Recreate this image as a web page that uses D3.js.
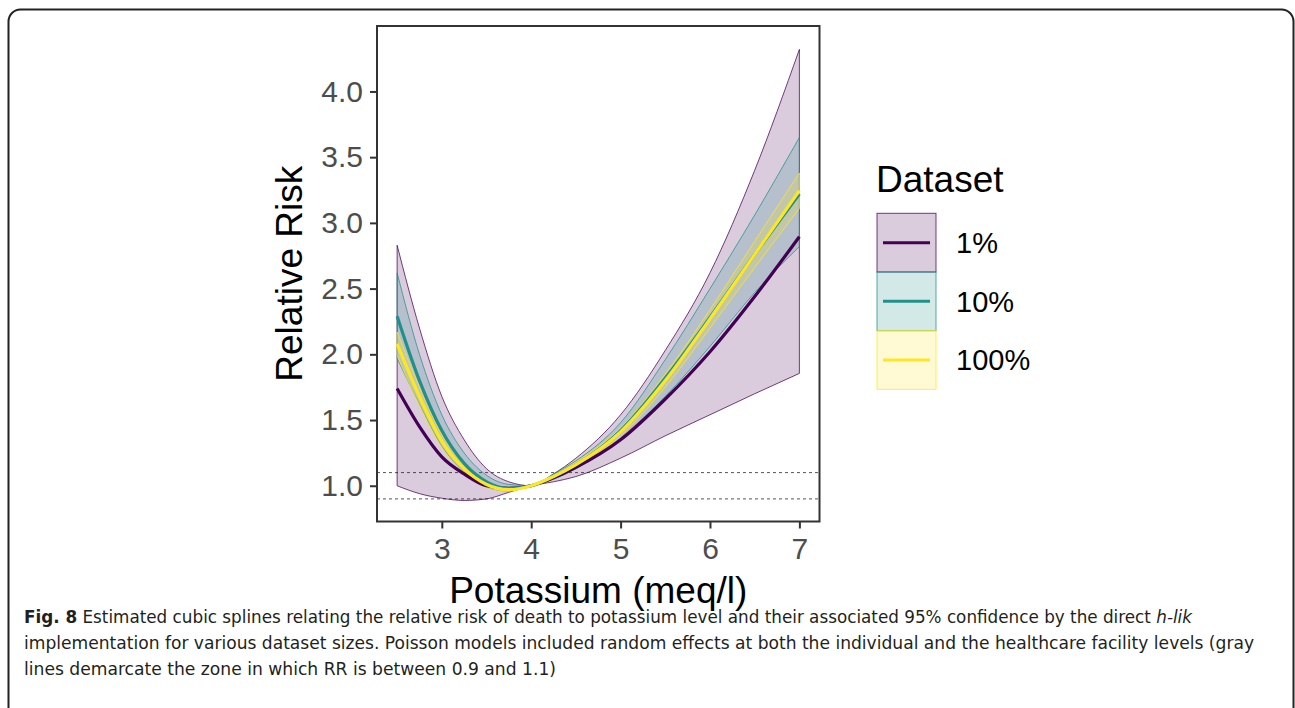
<!DOCTYPE html>
<html>
<head>
<meta charset="utf-8">
<script src="https://cdn.jsdelivr.net/npm/d3@7"></script>
<style>
  body { margin: 0; background: #fff; }
  svg { display: block; }
</style>
</head>
<body>
<div id="chart"></div>
<script>
// spline estimates, one row per dataset size
const potassium = [2.5, 2.75, 3, 3.25, 3.5, 3.75, 4, 4.25, 4.5, 5, 5.5, 6, 6.5, 7];

const rr1  = [1.74, 1.45, 1.22, 1.09, 1.0, 0.98, 1.0, 1.06, 1.14, 1.35, 1.66, 2.02, 2.44, 2.895];
const lo1  = [1.0, 0.94, 0.905, 0.888, 0.9, 0.95, 1.0, 1.03, 1.07, 1.21, 1.38, 1.54, 1.70, 1.855];
const hi1  = [2.83, 2.2, 1.68, 1.35, 1.13, 1.03, 1.0, 1.09, 1.21, 1.54, 2.03, 2.62, 3.40, 4.32];

const rr10 = [2.29, 1.80, 1.42, 1.17, 1.03, 0.98, 1.0, 1.07, 1.16, 1.42, 1.82, 2.28, 2.76, 3.22];
const lo10 = [1.97, 1.62, 1.30, 1.10, 0.99, 0.96, 1.0, 1.05, 1.13, 1.36, 1.68, 2.06, 2.47, 2.82];
const hi10 = [2.62, 2.00, 1.54, 1.25, 1.08, 1.01, 1.0, 1.09, 1.19, 1.48, 1.96, 2.50, 3.06, 3.65];

const rr100 = [2.08, 1.68, 1.34, 1.13, 1.01, 0.97, 1.0, 1.07, 1.16, 1.41, 1.80, 2.27, 2.76, 3.245];
const lo100 = [1.99, 1.61, 1.29, 1.10, 0.99, 0.96, 1.0, 1.06, 1.14, 1.38, 1.75, 2.20, 2.66, 3.11];
const hi100 = [2.17, 1.75, 1.39, 1.16, 1.03, 0.98, 1.0, 1.08, 1.18, 1.44, 1.85, 2.34, 2.86, 3.38];

const datasetLabels = ['1%', '10%', '100%'];
const datasetColors = ['#440154', '#21908C', '#FDE725'];

const xTicks = [3, 4, 5, 6, 7];
const yTicks = [1.0, 1.5, 2.0, 2.5, 3.0, 3.5, 4.0];
const refLines = [0.9, 1.1];

const captionLines = [
  [{t: 'Fig. 8', w: 'bold'}, {t: ' Estimated cubic splines relating the relative risk of death to potassium level and their associated 95% confidence by the direct '}, {t: 'h-lik', s: 'italic'}],
  [{t: 'implementation for various dataset sizes. Poisson models included random effects at both the individual and the healthcare facility levels (gray'}],
  [{t: 'lines demarcate the zone in which RR is between 0.9 and 1.1)'}]
];

const series = datasetLabels.map((label, i) => ({
  label: label,
  color: datasetColors[i],
  rows: potassium.map((k, j) => ({
    k: k,
    rr: [rr1, rr10, rr100][i][j],
    lo: [lo1, lo10, lo100][i][j],
    hi: [hi1, hi10, hi100][i][j]
  }))
}));

const width = 1295, height = 708;
const panel = {left: 377, right: 819.5, top: 26, bottom: 521.5};
const font = "'Liberation Sans', Arial, sans-serif";

const svg = d3.select('#chart').append('svg')
  .attr('width', width)
  .attr('height', height);

// outer figure frame (bottom edge runs off the page)
svg.append('rect')
  .attr('x', 8.5).attr('y', 9.5)
  .attr('width', 1285).attr('height', 740)
  .attr('rx', 12)
  .attr('fill', 'none')
  .attr('stroke', '#222')
  .attr('stroke-width', 2);

// ggplot pads the data range by 5% on each side
const x = d3.scaleLinear()
  .domain([2.275, 7.225])
  .range([panel.left, panel.right]);

const y = d3.scaleLinear()
  .domain([0.728, 4.498])
  .range([panel.bottom, panel.top]);

const plot = svg.append('g');

// reference lines at RR 0.9 and 1.1
plot.selectAll('line.ref')
  .data(refLines)
  .join('line')
    .attr('class', 'ref')
    .attr('x1', panel.left).attr('x2', panel.right)
    .attr('y1', d => y(d)).attr('y2', d => y(d))
    .attr('stroke', '#555')
    .attr('stroke-width', 1)
    .attr('stroke-dasharray', '3,3');

const area = d3.area()
  .x(d => x(d.k))
  .y0(d => y(d.lo))
  .y1(d => y(d.hi))
  .curve(d3.curveMonotoneX);

const line = d3.line()
  .x(d => x(d.k))
  .y(d => y(d.rr))
  .curve(d3.curveMonotoneX);

// confidence bands first, then the estimates on top
plot.selectAll('path.band')
  .data(series)
  .join('path')
    .attr('class', 'band')
    .attr('d', d => area(d.rows) + 'Z')
    .attr('fill', d => d.color)
    .attr('fill-opacity', 0.2)
    .attr('stroke', d => d.color)
    .attr('stroke-opacity', 0.75)
    .attr('stroke-width', 1);

plot.selectAll('path.est')
  .data(series)
  .join('path')
    .attr('class', 'est')
    .attr('d', d => line(d.rows))
    .attr('fill', 'none')
    .attr('stroke', d => d.color)
    .attr('stroke-width', 3.2);

// panel border
svg.append('rect')
  .attr('x', panel.left).attr('y', panel.top)
  .attr('width', panel.right - panel.left)
  .attr('height', panel.bottom - panel.top)
  .attr('fill', 'none')
  .attr('stroke', '#333')
  .attr('stroke-width', 2);

const styleAxis = g => {
  g.select('.domain').remove();
  g.selectAll('.tick line').attr('stroke', '#333').attr('stroke-width', 2);
  g.selectAll('.tick text')
    .attr('fill', '#4d4d4d')
    .attr('font-family', font)
    .attr('font-size', 30);
};

svg.append('g')
  .attr('transform', `translate(${panel.left},0)`)
  .call(d3.axisLeft(y).tickValues(yTicks).tickFormat(d3.format('.1f')).tickSize(7).tickPadding(7))
  .call(styleAxis);

svg.append('g')
  .attr('transform', `translate(0,${panel.bottom})`)
  .call(d3.axisBottom(x).tickValues(xTicks).tickFormat(d3.format('d')).tickSize(7).tickPadding(9))
  .call(styleAxis);

// axis titles
svg.append('text')
  .attr('x', (panel.left + panel.right) / 2)
  .attr('y', 603)
  .attr('text-anchor', 'middle')
  .attr('font-family', font)
  .attr('font-size', 37)
  .attr('fill', '#000')
  .text('Potassium (meq/l)');

svg.append('text')
  .attr('transform', `translate(302,${(panel.top + panel.bottom) / 2}) rotate(-90)`)
  .attr('text-anchor', 'middle')
  .attr('font-family', font)
  .attr('font-size', 37)
  .attr('fill', '#000')
  .text('Relative Risk');

// legend
const legend = svg.append('g')
  .attr('font-family', font)
  .attr('fill', '#000');

legend.append('text')
  .attr('x', 876)
  .attr('y', 192)
  .attr('font-size', 37)
  .text('Dataset');

const keyH = 58.7, keyW = 59, keyX = 877, keyY = 213.3;

const keys = legend.selectAll('g.key')
  .data(series)
  .join('g')
    .attr('class', 'key')
    .attr('transform', (d, i) => `translate(${keyX},${keyY + i * keyH})`);

keys.append('rect')
  .attr('width', keyW).attr('height', keyH)
  .attr('fill', d => d.color)
  .attr('fill-opacity', 0.2)
  .attr('stroke', d => d.color)
  .attr('stroke-opacity', 0.75)
  .attr('stroke-width', 1);

keys.append('line')
  .attr('x1', 6).attr('x2', 53)
  .attr('y1', keyH / 2).attr('y2', keyH / 2)
  .attr('stroke', d => d.color)
  .attr('stroke-width', 3);

keys.append('text')
  .attr('x', 79)
  .attr('y', keyH / 2)
  .attr('dy', '0.36em')
  .attr('font-size', 29)
  .text(d => d.label);

// figure caption
const captionEnds = [1192, 1254, 556];
const caption = svg.append('g')
  .attr('font-family', "'DejaVu Sans Condensed', 'Liberation Sans Narrow', sans-serif")
  .attr('font-size', 17.5)
  .attr('fill', '#231f20');

captionLines.forEach((parts, i) => {
  const t = caption.append('text')
    .attr('x', 24)
    .attr('y', 623 + i * 26)
    .attr('textLength', captionEnds[i] - 24)
    .attr('lengthAdjust', 'spacingAndGlyphs');
  parts.forEach(p => {
    t.append('tspan')
      .attr('font-weight', p.w || 'normal')
      .attr('font-style', p.s || 'normal')
      .text(p.t);
  });
});
</script>
</body>
</html>
